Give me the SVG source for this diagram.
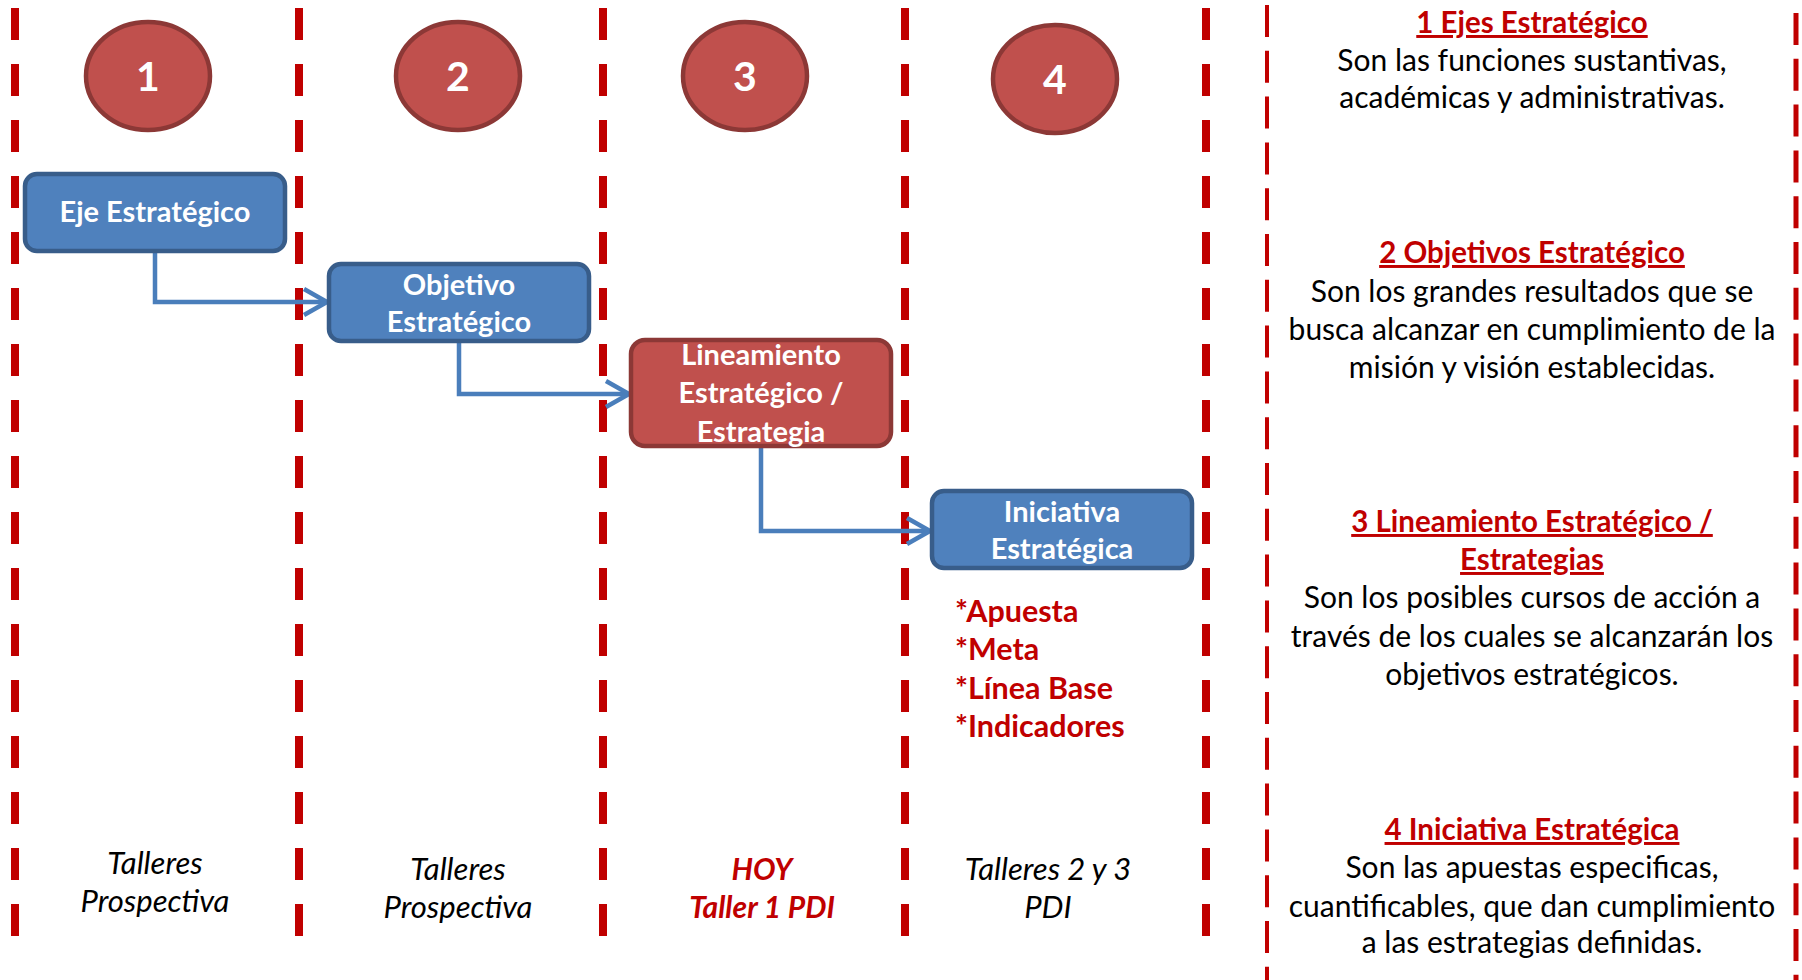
<svg xmlns="http://www.w3.org/2000/svg" width="1802" height="980" viewBox="0 0 1802 980">
<style>
.bg{fill:#ffffff}
.div{stroke:#C00000;stroke-width:8;stroke-dasharray:32 24;fill:none}
.divthin{stroke:#C00000;stroke-width:4;stroke-dasharray:32 13.8;fill:none}
.circ{fill:#C0504D;stroke:#8C3836;stroke-width:4.5}
.num{font-family:Lato,"Liberation Sans",sans-serif;font-weight:bold;font-size:41px;fill:#ffffff;text-anchor:middle}
.bbox{fill:#4F81BD;stroke:#385D8A;stroke-width:4.5}
.rbox{fill:#C0504D;stroke:#8C3836;stroke-width:4.5}
.bt{font-family:Lato,"Liberation Sans",sans-serif;font-weight:bold;font-size:29px;fill:#ffffff;text-anchor:middle}
.conn{stroke:#4A7EBB;stroke-width:4.5;fill:none;stroke-linejoin:miter}
.list{font-family:Lato,"Liberation Sans",sans-serif;font-weight:bold;font-size:30.5px;fill:#C00000}
.bot{font-family:Lato,"Liberation Sans",sans-serif;font-style:italic;font-size:31px;fill:#000000;text-anchor:middle}
.botr{font-family:Lato,"Liberation Sans",sans-serif;font-style:italic;font-weight:bold;font-size:30px;fill:#C00000;text-anchor:middle}
.hd{font-family:Lato,"Liberation Sans",sans-serif;font-weight:bold;font-size:29.5px;fill:#C00000;text-anchor:middle;text-decoration:underline}
.bd{font-family:Lato,"Liberation Sans",sans-serif;font-size:30px;fill:#000000;text-anchor:middle}
</style>
<rect class="bg" x="0" y="0" width="1802" height="980"/>
<g id="dividers">
<line class="div" x1="15" y1="8" x2="15" y2="936"/>
<line class="div" x1="299" y1="8" x2="299" y2="936"/>
<line class="div" x1="603" y1="8" x2="603" y2="936"/>
<line class="div" x1="905" y1="8" x2="905" y2="936"/>
<line class="div" x1="1206" y1="8" x2="1206" y2="936"/>
<line class="divthin" x1="1267" y1="5" x2="1267" y2="980"/>
<line class="divthin" x1="1796" y1="13" x2="1796" y2="980" style="stroke-width:5"/>
</g>
<g id="step1"><ellipse class="circ" cx="148" cy="76" rx="62" ry="54"/><text class="num" x="148" y="91">1</text></g>
<g id="step2"><ellipse class="circ" cx="458" cy="76" rx="62" ry="54"/><text class="num" x="458" y="91">2</text></g>
<g id="step3"><ellipse class="circ" cx="745" cy="76" rx="62" ry="54"/><text class="num" x="745" y="91">3</text></g>
<g id="step4"><ellipse class="circ" cx="1055" cy="79" rx="62" ry="54"/><text class="num" x="1055" y="94">4</text></g>
<g id="connectors">
<path class="conn" d="M155 252 V302 H326"/>
<polyline class="conn" points="304,289 327,302 304,315"/>
<path class="conn" d="M459 342 V394 H628"/>
<polyline class="conn" points="606,381 629,394 606,407"/>
<path class="conn" d="M761 447 V531 H929"/>
<polyline class="conn" points="907,518 930,531 907,544"/>
</g>
<g id="eje"><rect class="bbox" x="25" y="174" width="260" height="77" rx="12"/><text class="bt" x="155" y="222">Eje Estratégico</text></g>
<g id="objetivo"><rect class="bbox" x="329" y="264" width="260" height="77" rx="12"/><text class="bt" x="459" y="295">Objetivo</text><text class="bt" x="459" y="332">Estratégico</text></g>
<g id="lineamiento"><rect class="rbox" x="631" y="340" width="260" height="106" rx="14"/><text class="bt" x="761" y="365">Lineamiento</text><text class="bt" x="761" y="403">Estratégico /</text><text class="bt" x="761" y="442">Estrategia</text></g>
<g id="iniciativa"><rect class="bbox" x="932" y="491" width="260" height="77" rx="12"/><text class="bt" x="1062" y="522">Iniciativa</text><text class="bt" x="1062" y="559">Estratégica</text></g>
<g id="lista">
<text class="list" x="955" y="622">*Apuesta</text>
<text class="list" x="955" y="660">*Meta</text>
<text class="list" x="955" y="699">*Línea Base</text>
<text class="list" x="955" y="737">*Indicadores</text>
</g>
<g id="labels">
<text class="bot" x="155" y="874">Talleres</text><text class="bot" x="155" y="912">Prospectiva</text>
<text class="bot" x="458" y="880">Talleres</text><text class="bot" x="458" y="918">Prospectiva</text>
<text class="botr" x="762" y="880">HOY</text><text class="botr" x="762" y="918">Taller 1 PDI</text>
<text class="bot" x="1048" y="880">Talleres 2 y 3</text><text class="bot" x="1048" y="918">PDI</text>
</g>
<g id="legend">
<text class="hd" x="1532" y="33">1 Ejes Estratégico</text>
<text class="bd" x="1532" y="71">Son las funciones sustantivas,</text>
<text class="bd" x="1532" y="108">académicas y administrativas.</text>
<text class="hd" x="1532" y="263">2 Objetivos Estratégico</text>
<text class="bd" x="1532" y="302">Son los grandes resultados que se</text>
<text class="bd" x="1532" y="340">busca alcanzar en cumplimiento de la</text>
<text class="bd" x="1532" y="378">misión y visión establecidas.</text>
<text class="hd" x="1532" y="532">3 Lineamiento Estratégico /</text>
<text class="hd" x="1532" y="570">Estrategias</text>
<text class="bd" x="1532" y="608">Son los posibles cursos de acción a</text>
<text class="bd" x="1532" y="647">través de los cuales se alcanzarán los</text>
<text class="bd" x="1532" y="685">objetivos estratégicos.</text>
<text class="hd" x="1532" y="840">4 Iniciativa Estratégica</text>
<text class="bd" x="1532" y="878">Son las apuestas especificas,</text>
<text class="bd" x="1532" y="917">cuantificables, que dan cumplimiento</text>
<text class="bd" x="1532" y="953">a las estrategias definidas.</text>
</g>
</svg>
